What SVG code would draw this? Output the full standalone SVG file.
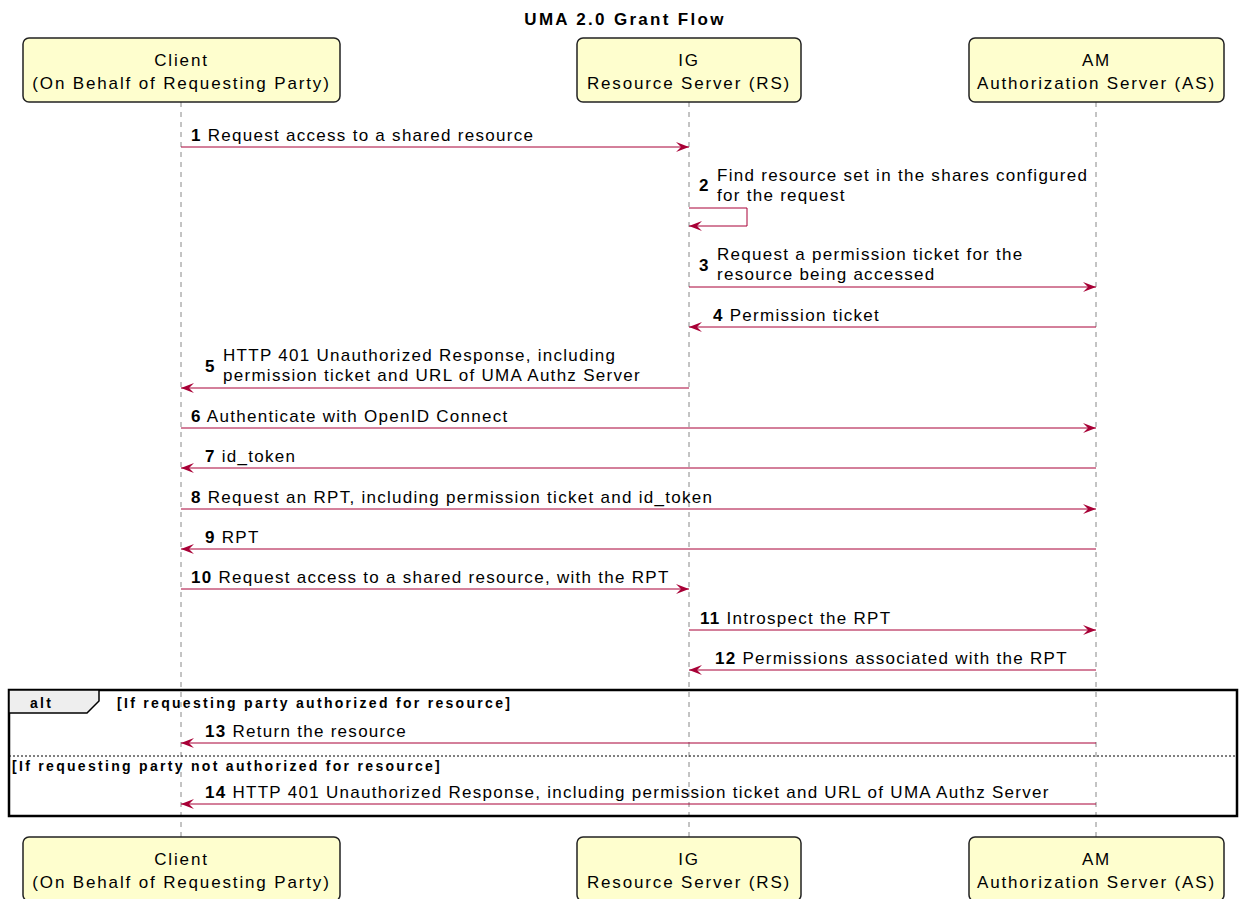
<svg xmlns="http://www.w3.org/2000/svg" width="1243" height="899" viewBox="0 0 1243 899">
<style>
.box{fill:#FEFECE;stroke:#222;stroke-width:1.5}
.pt{font-family:"Liberation Sans",Arial,sans-serif;font-size:17px;letter-spacing:1.85px;fill:#000;text-anchor:middle}
.life{stroke:#888;stroke-width:1;stroke-dasharray:5,5}
.msg{stroke:#A80036;stroke-width:1;fill:none;marker-end:url(#ah)}
.mt{font-family:"Liberation Sans",Arial,sans-serif;font-size:17px;letter-spacing:1.28px;fill:#000}
.num{font-weight:bold}
.title{font-family:"Liberation Sans",Arial,sans-serif;font-size:17px;font-weight:bold;letter-spacing:2.3px;text-anchor:middle}
.gt{font-family:"Liberation Sans",Arial,sans-serif;font-size:14px;font-weight:bold;letter-spacing:2.3px}
</style>
<defs>
<marker id="ah" viewBox="0 0 13 10" refX="13" refY="5" markerWidth="13" markerHeight="10" markerUnits="userSpaceOnUse" orient="auto">
<path d="M0,0 L13,5 L0,10 L5,5 Z" fill="#A80036"/>
</marker>
</defs>
<rect width="1243" height="899" fill="#fff"/>
<text class="title" x="625" y="25">UMA 2.0 Grant Flow</text>
<g id="lifelines">
<line class="life" x1="181" y1="102" x2="181" y2="837"/>
<line class="life" x1="689" y1="102" x2="689" y2="837"/>
<line class="life" x1="1096" y1="102" x2="1096" y2="837"/>
</g>
<g id="client">
<rect class="box" x="23" y="38" width="317" height="64" rx="6"/>
<text class="pt" x="181.5" y="66">Client</text>
<text class="pt" x="181.5" y="89">(On Behalf of Requesting Party)</text>
</g>
<g id="ig">
<rect class="box" x="577" y="38" width="224" height="64" rx="6"/>
<text class="pt" x="689" y="66">IG</text>
<text class="pt" x="689" y="89">Resource Server (RS)</text>
</g>
<g id="am">
<rect class="box" x="969" y="38" width="255" height="64" rx="6"/>
<text class="pt" x="1096.5" y="66">AM</text>
<text class="pt" x="1096.5" y="89">Authorization Server (AS)</text>
</g>
<g id="client-bottom">
<rect class="box" x="23" y="837" width="317" height="64" rx="6"/>
<text class="pt" x="181.5" y="865">Client</text>
<text class="pt" x="181.5" y="888">(On Behalf of Requesting Party)</text>
</g>
<g id="ig-bottom">
<rect class="box" x="577" y="837" width="224" height="64" rx="6"/>
<text class="pt" x="689" y="865">IG</text>
<text class="pt" x="689" y="888">Resource Server (RS)</text>
</g>
<g id="am-bottom">
<rect class="box" x="969" y="837" width="255" height="64" rx="6"/>
<text class="pt" x="1096.5" y="865">AM</text>
<text class="pt" x="1096.5" y="888">Authorization Server (AS)</text>
</g>
<g id="alt-frame">
<rect x="9" y="690" width="1228" height="126" fill="none" stroke="#000" stroke-width="2.5"/>
<path d="M9,690 H99 V701 L87,713 H9 Z" fill="#EEEEEE" stroke="#000" stroke-width="1.5"/>
<text class="gt" x="30" y="708">alt</text>
<text class="gt" x="117" y="708">[If requesting party authorized for resource]</text>
<line x1="9" y1="756" x2="1237" y2="756" stroke="#000" stroke-width="1" stroke-dasharray="2,2"/>
<text class="gt" x="12" y="771">[If requesting party not authorized for resource]</text>
</g>
<g id="connectors">
<line class="msg" x1="181" y1="147" x2="689" y2="147"/>
<path class="msg" d="M689,208 H747 V226 H689"/>
<line class="msg" x1="689" y1="287" x2="1096" y2="287"/>
<line class="msg" x1="1096" y1="327" x2="689" y2="327"/>
<line class="msg" x1="689" y1="388" x2="181" y2="388"/>
<line class="msg" x1="181" y1="428" x2="1096" y2="428"/>
<line class="msg" x1="1096" y1="468" x2="181" y2="468"/>
<line class="msg" x1="181" y1="509" x2="1096" y2="509"/>
<line class="msg" x1="1096" y1="549" x2="181" y2="549"/>
<line class="msg" x1="181" y1="589" x2="689" y2="589"/>
<line class="msg" x1="689" y1="630" x2="1096" y2="630"/>
<line class="msg" x1="1096" y1="670" x2="689" y2="670"/>
<line class="msg" x1="1096" y1="743" x2="181" y2="743"/>
<line class="msg" x1="1096" y1="804" x2="181" y2="804"/>
</g>
<g id="labels">
<text class="mt" x="191" y="141"><tspan class="num">1</tspan> Request access to a shared resource</text>
<text class="mt num" x="699" y="191">2</text>
<text class="mt" x="717" y="181">Find resource set in the shares configured</text>
<text class="mt" x="717" y="201">for the request</text>
<text class="mt num" x="699" y="271">3</text>
<text class="mt" x="717" y="260">Request a permission ticket for the</text>
<text class="mt" x="717" y="280">resource being accessed</text>
<text class="mt" x="713" y="321"><tspan class="num">4</tspan> Permission ticket</text>
<text class="mt num" x="205" y="372">5</text>
<text class="mt" x="223" y="361">HTTP 401 Unauthorized Response, including</text>
<text class="mt" x="223" y="381">permission ticket and URL of UMA Authz Server</text>
<text class="mt" x="191" y="422"><tspan class="num">6</tspan> Authenticate with OpenID Connect</text>
<text class="mt" x="205" y="462"><tspan class="num">7</tspan> id_token</text>
<text class="mt" x="191" y="503"><tspan class="num">8</tspan> Request an RPT, including permission ticket and id_token</text>
<text class="mt" x="205" y="543"><tspan class="num">9</tspan> RPT</text>
<text class="mt" x="191" y="583"><tspan class="num">10</tspan> Request access to a shared resource, with the RPT</text>
<text class="mt" x="700" y="624"><tspan class="num">11</tspan> Introspect the RPT</text>
<text class="mt" x="715" y="664"><tspan class="num">12</tspan> Permissions associated with the RPT</text>
<text class="mt" x="205" y="737"><tspan class="num">13</tspan> Return the resource</text>
<text class="mt" x="205" y="798"><tspan class="num">14</tspan> HTTP 401 Unauthorized Response, including permission ticket and URL of UMA Authz Server</text>
</g>
</svg>
